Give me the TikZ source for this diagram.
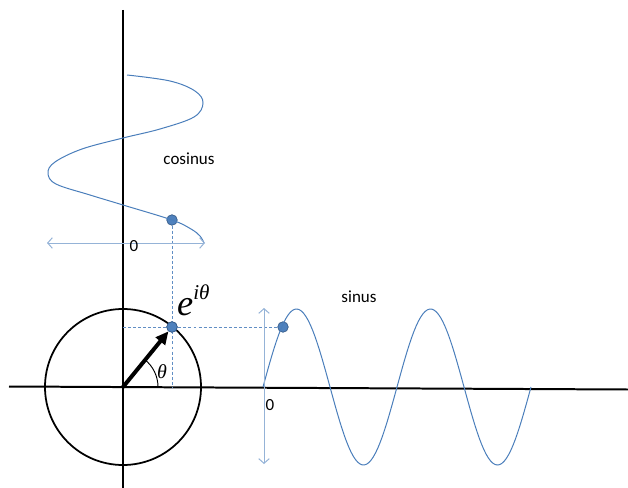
\documentclass[tikz,border=0pt]{standalone}
\usepackage{fontspec}
\setmainfont{Carlito}
\newfontfamily\mathlike{Liberation Serif}
\usetikzlibrary{arrows.meta,calc}
\definecolor{waveC}{HTML}{4A7EBB}
\definecolor{dotC}{HTML}{4F81BD}
\definecolor{dotE}{HTML}{385D8A}
\definecolor{guideC}{HTML}{95B3D7}

\begin{document}
\begin{tikzpicture}[x=0.03cm, y=-0.03cm,
  >=Stealth,
  every node/.style={font=\fontsize{14.5}{16}\selectfont, text=black},
  axis/.style={line width=1.7pt, black},
  wave/.style={line width=0.85pt, waveC},
  guide/.style={line width=0.85pt, guideC,
                {Straight Barb[length=4pt,width=9pt]}-{Straight Barb[length=4pt,width=9pt]}},
  proj/.style={dash pattern=on 2.5pt off 1.8pt, line width=0.8pt, dotC!90},
  vec/.style={line width=3.4pt, black, -{Triangle[length=11pt,width=10pt]}},
  dot/.style={circle, fill=dotC, draw=dotE, line width=0.6pt,
              minimum size=9pt, inner sep=0pt},
]
\useasboundingbox (0,0) rectangle (628,488);

% ── Axes and unit circle ──
\coordinate (O) at (123,387);
\coordinate (ytop) at (123,10);
\coordinate (ybot) at (123,488);
\coordinate (xl) at (9,386.5);
\coordinate (xr) at (628,389.5);
\draw[axis] (ytop) -- (ybot);
\draw[axis] (xl) -- (xr);
\draw[line width=1.5pt] (O) circle[radius=78];

% ── Points ──
\node[dot] (P) at (172,327) {};
\node[dot] (C) at (172,220) {};
\node[dot] (S) at (283,327) {};

% ── Projections (dashed) ──
\draw[proj] (C) -- (C |- O);
\draw[proj] (O |- P) -- (S);

% ── Cosinus wave ──
\draw[wave] plot[smooth, tension=0.6] coordinates {
  (127,75) (170,81) (195,91) (203,103) (194,117) (160,129) (123,138)
  (82,149) (55,162) (48,173) (56,184) (90,195) (123,205) (172,220)
  (191,229) (200,236) (204,243)};
\coordinate (cl) at (47,243);
\coordinate (cr) at (205,243);
\draw[guide] (cl) -- (cr);

% ── Sinus wave ──
\draw[wave] plot[domain=0:268, samples=120] ({263+\x}, {387-78*sin(\x/67*180)});
\coordinate (st) at (264,308);
\coordinate (sb) at (264,464);
\draw[guide] (sb) -- (st);

% ── Vector and angle ──
\draw[line width=0.8pt] ($(O)+(35,0)$) arc[start angle=0, end angle=-51, radius=35];
\draw[vec] (O) -- (P);
\node[dot] at (P) {};

% ── Labels ──
\node[anchor=base west, inner sep=0pt] (eit) at (177,315)
  {\mathlike\itshape\fontsize{31}{31}\selectfont e\raisebox{13pt}{\fontsize{18}{18}\selectfont iθ}};
\node[anchor=base west, inner sep=0pt] (th) at (157,378) {\mathlike\itshape\fontsize{17}{17}\selectfont θ};
\node (cosl) at (189,159) {cosinus};
\node (sinl) at (359,297) {sinus};
\node (c0) at (134,246) {0};
\node (s0) at (270,405) {0};

\end{tikzpicture}
\end{document}
